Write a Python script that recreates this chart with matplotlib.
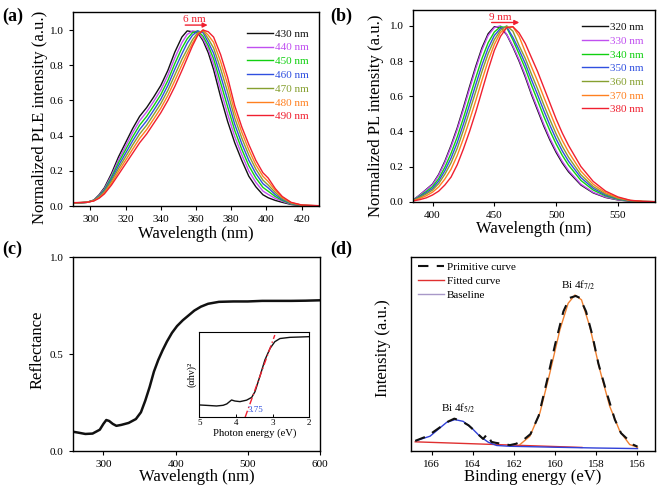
import matplotlib
matplotlib.use("Agg")
import matplotlib.pyplot as plt
from matplotlib.lines import Line2D

plt.rcParams['font.family'] = ['Liberation Serif', 'DejaVu Serif']
plt.rcParams['mathtext.fontset'] = 'stix'

# ---------------- Panel (a) PLE ----------------
wl_a = [290, 298, 302, 305, 308, 312, 316, 320, 324, 328, 332, 336, 340, 344, 348, 352, 355, 358,
        361, 364, 367, 370, 374, 378, 382, 386, 390, 394, 398, 401, 405, 409, 414, 420, 430]
ple_430 = [.016, .022, .035, .065, .105, .185, .28, .36, .44, .51, .56, .62, .685, .77, .875, .96, .995, .99,
           .985, .94, .87, .775, .62, .48, .36, .26, .17, .11, .065, .048, .033, .022, .01, .003, 0.0]
ple_440 = [.017, .022, .034, .062, .099, .174, .263, .34, .417, .485, .535, .595, .659, .742, .842, .928, .975, .995,
           .99, .95, .89, .806, .66, .522, .395, .292, .20, .135, .086, .067, .044, .028, .012, .004, 0.0]
ple_450 = [.017, .022, .033, .058, .093, .163, .247, .32, .393, .46, .51, .57, .633, .713, .81, .897, .95, .985,
           .995, .965, .91, .837, .70, .563, .43, .323, .23, .16, .107, .085, .055, .033, .014, .004, .001]
ple_460 = [.018, .022, .032, .055, .088, .152, .23, .30, .37, .435, .485, .545, .607, .685, .778, .865, .925, .97,
           .995, .985, .93, .868, .74, .605, .465, .355, .26, .185, .128, .104, .066, .038, .016, .005, .001]
ple_470 = [.019, .022, .032, .052, .082, .142, .213, .28, .347, .41, .46, .52, .582, .657, .745, .833, .89, .945,
           .985, .995, .95, .898, .78, .647, .50, .387, .29, .21, .148, .12, .078, .044, .018, .006, .002]
ple_480 = [.019, .022, .031, .048, .076, .13, .197, .26, .323, .385, .435, .495, .556, .628, .713, .802, .865, .925,
           .975, 1.0, .97, .93, .82, .69, .535, .42, .32, .235, .17, .14, .09, .05, .02, .006, .002]
ple_490 = [.02, .022, .03, .045, .07, .12, .18, .24, .30, .36, .41, .47, .53, .60, .68, .77, .84, .91,
           .97, 1.0, .99, .96, .86, .73, .57, .45, .35, .26, .19, .16, .10, .055, .022, .007, .003]
labels_a = ['430 nm', '440 nm', '450 nm', '460 nm', '470 nm', '480 nm', '490 nm']

# ---------------- Panel (b) PL ----------------
wl_b = [385, 390, 395, 400, 405, 410, 415, 420, 425, 430, 435, 440, 445, 450, 455, 460, 465, 470,
        475, 480, 485, 490, 495, 500, 505, 510, 520, 530, 540, 550, 560, 570, 580]
pl_320 = [.013, .04, .07, .10, .155, .23, .32, .42, .535, .655, .77, .875, .955, .995, .99, .95, .88, .80,
          .71, .61, .52, .43, .35, .28, .22, .17, .095, .05, .024, .01, .003, 0, 0]
pl_330 = [.013, .039, .068, .097, .150, .223, .311, .41, .523, .642, .757, .863, .945, .99, 1.0, .952, .886, .808,
          .72, .62, .531, .441, .36, .29, .229, .178, .10, .053, .026, .011, .003, 0, 0]
pl_340 = [.011, .033, .058, .085, .131, .196, .275, .368, .476, .591, .705, .814, .904, .965, .995, .99, .92, .84,
          .758, .663, .575, .485, .403, .328, .263, .208, .121, .066, .033, .014, .004, .0005, 0]
pl_350 = [.01, .029, .051, .075, .117, .176, .248, .336, .441, .553, .666, .777, .873, .945, .985, .995, .935, .864,
          .786, .694, .608, .518, .434, .356, .288, .23, .137, .076, .038, .017, .005, .001, 0]
pl_360 = [.009, .025, .044, .066, .103, .156, .221, .304, .406, .515, .627, .74, .842, .921, .975, 1.0, .97, .888,
          .815, .726, .641, .551, .466, .385, .314, .253, .153, .086, .044, .019, .006, .001, 0]
pl_370 = [.007, .019, .034, .054, .084, .129, .185, .263, .359, .464, .575, .691, .801, .894, .962, .99, .995, .94,
          .853, .768, .685, .595, .508, .423, .348, .283, .174, .099, .051, .023, .007, .002, 0]
pl_380 = [.005, .012, .022, .038, .06, .095, .14, .21, .30, .40, .51, .63, .75, .86, .94, .99, .995, .96,
          .90, .82, .74, .65, .56, .47, .39, .32, .20, .115, .06, .027, .008, .002, 0]
labels_b = ['320 nm', '330 nm', '340 nm', '350 nm', '360 nm', '370 nm', '380 nm']

colors7 = ['#111111', '#C050F0', '#10D010', '#3050E0', '#86A030', '#FF8020', '#F02030']

# ---------------- Panel (c) reflectance ----------------
wl_c = [257, 265, 275, 285, 295, 300, 304, 308, 313, 318, 325, 335, 345, 352, 358, 364, 370, 376, 382,
        388, 395, 402, 410, 418, 426, 435, 445, 460, 480, 500, 520, 540, 560, 580, 600]
refl = [0.10, 0.095, 0.088, 0.09, 0.11, 0.14, 0.16, 0.155, 0.14, 0.13, 0.135, 0.145, 0.165, 0.2, 0.26,
        0.33, 0.41, 0.47, 0.52, 0.565, 0.61, 0.645, 0.675, 0.70, 0.725, 0.745, 0.76, 0.77, 0.772, 0.772,
        0.775, 0.775, 0.775, 0.776, 0.778]
# inset Tauc plot
ev_in = [5.0, 4.75, 4.53, 4.35, 4.25, 4.12, 4.03, 3.89, 3.71, 3.57, 3.48, 3.35, 3.21, 3.07, 2.94, 2.8, 2.53, 2.25, 2.0]
tauc = [0.144, 0.138, 0.132, 0.14, 0.156, 0.202, 0.19, 0.183, 0.2, 0.233, 0.3, 0.475, 0.67, 0.805, 0.883,
        0.92, 0.934, 0.938, 0.942]
fit_ev = [3.75, 2.94]
fit_val = [0.0, 0.961]

# ---------------- Panel (d) XPS ----------------
be_prim = [166.8, 166.2, 165.6, 165.2, 164.9, 164.6, 164.2, 163.8, 163.5, 163.3, 163.1, 162.9, 162.6, 162.2,
           161.9, 161.6, 161.2, 160.8, 160.4, 160.0, 159.6, 159.3, 159.0, 158.8, 158.5, 158.2, 157.9, 157.5,
           157.1, 156.8, 156.5, 156.2, 156.0]
int_prim = [0.05, 0.075, 0.12, 0.15, 0.165, 0.155, 0.13, 0.09, 0.06, 0.085, 0.045, 0.04, 0.035, 0.028,
            0.035, 0.05, 0.085, 0.18, 0.36, 0.55, 0.72, 0.79, 0.80, 0.79, 0.72, 0.60, 0.45, 0.30,
            0.16, 0.09, 0.06, 0.03, 0.02]
be_f52 = [166.73, 166.08, 165.6, 165.27, 164.87, 164.47, 164.06, 163.66, 163.25, 162.84, 162.2, 160.0, 158.0, 156.0]
int_f52 = [0.052, 0.074, 0.117, 0.146, 0.16, 0.151, 0.117, 0.074, 0.043, 0.026, 0.022, 0.017, 0.013, 0.01]
be_f72 = [161.71, 161.23, 160.74, 160.26, 159.77, 159.37, 159.04, 158.72, 158.32, 157.83, 157.35, 156.86, 156.38, 156.0]
int_f72 = [0.031, 0.074, 0.195, 0.401, 0.625, 0.762, 0.805, 0.78, 0.642, 0.418, 0.229, 0.10, 0.031, 0.017]
be_red = [166.8, 158.7]
int_red = [0.045, 0.016]

fig = plt.figure(figsize=(6.61, 4.86), dpi=100)

tick_fs = 8
lab_fs = 12


def style_ax(ax):
    ax.tick_params(direction='out', labelsize=tick_fs, length=3, width=0.8, top=False, right=False)
    for s in ax.spines.values():
        s.set_linewidth(1.0)


# ---- (a)
axa = fig.add_axes([0.110, 0.5757, 0.373, 0.3988])
for y, c, lab in zip([ple_430, ple_440, ple_450, ple_460, ple_470, ple_480, ple_490], colors7, labels_a):
    axa.plot(wl_a, y, color=c, lw=1.0, label=lab)
axa.set_xlim(290, 430)
axa.set_ylim(0, 1.1)
axa.set_xticks([300, 320, 340, 360, 380, 400, 420])
axa.set_yticks([0.0, 0.2, 0.4, 0.6, 0.8, 1.0])
axa.set_yticklabels(['0.0', '0.2', '0.4', '0.6', '0.8', '1.0'])
style_ax(axa)
axa.set_xlabel('Wavelength (nm)', fontsize=lab_fs, labelpad=1)
axa.set_ylabel('Normalized PLE intensity (a.u.)', fontsize=lab_fs)
axa.yaxis.set_label_coords(-0.1, 0.46)
leg = axa.legend(loc='upper left', bbox_to_anchor=(0.705, 0.915), frameon=False, fontsize=8,
                 handlelength=2.4, handletextpad=0.15, labelspacing=0.36, borderpad=0, borderaxespad=0)
for t, c in zip(leg.get_texts(), colors7):
    t.set_color(c)
axa.annotate('', xy=(366.6, 1.028), xytext=(353.9, 1.028),
             arrowprops=dict(arrowstyle='-|>', color='#F02030', lw=1.0, mutation_scale=7, shrinkA=0, shrinkB=0))
axa.text(359, 1.06, '6 nm', color='#F02030', fontsize=8, ha='center', va='center')
fig.text(0.004, 0.985, '(a)', fontsize=13, fontweight='bold', va='top', ha='left')

# ---- (b)
axb = fig.add_axes([0.6244, 0.585, 0.3666, 0.3944])
for y, c, lab in zip([pl_320, pl_330, pl_340, pl_350, pl_360, pl_370, pl_380], colors7, labels_b):
    axb.plot(wl_b, y, color=c, lw=1.0, label=lab)
axb.set_xlim(384, 580)
axb.set_ylim(0, 1.09)
axb.set_xticks([400, 450, 500, 550])
axb.set_yticks([0.0, 0.2, 0.4, 0.6, 0.8, 1.0])
axb.set_yticklabels(['0.0', '0.2', '0.4', '0.6', '0.8', '1.0'])
style_ax(axb)
axb.set_xlabel('Wavelength (nm)', fontsize=lab_fs, labelpad=1)
axb.set_ylabel('Normalized PL intensity (a.u.)', fontsize=lab_fs)
axb.yaxis.set_label_coords(-0.118, 0.45)
leg = axb.legend(loc='upper left', bbox_to_anchor=(0.6975, 0.935), frameon=False, fontsize=8,
                 handlelength=2.4, handletextpad=0.15, labelspacing=0.35, borderpad=0, borderaxespad=0)
for t, c in zip(leg.get_texts(), colors7):
    t.set_color(c)
axb.annotate('', xy=(470.2, 1.019), xytext=(447.8, 1.019),
             arrowprops=dict(arrowstyle='-|>', color='#F02030', lw=1.0, mutation_scale=7, shrinkA=0, shrinkB=0))
axb.text(454.5, 1.05, '9 nm', color='#F02030', fontsize=8, ha='center', va='center')
fig.text(0.500, 0.985, '(b)', fontsize=13, fontweight='bold', va='top', ha='left')

# ---- (c)
axc = fig.add_axes([0.110, 0.072, 0.3741, 0.3986])
axc.plot(wl_c, refl, color='#111111', lw=1.8)
axc.set_xlim(257.5, 600)
axc.set_ylim(0, 1.0)
axc.set_xticks([300, 400, 500, 600])
axc.set_yticks([0.0, 0.5, 1.0])
axc.set_yticklabels(['0.0', '0.5', '1.0'])
style_ax(axc)
axc.set_xlabel('Wavelength (nm)', fontsize=lab_fs, labelpad=0)
axc.set_ylabel('Reflectance', fontsize=lab_fs)
axc.yaxis.set_label_coords(-0.108, 0.52)
fig.text(0.004, 0.505, '(c)', fontsize=13, fontweight='bold', va='top', ha='left')

axi = fig.add_axes([0.3015, 0.1414, 0.1664, 0.1761])
axi.plot(ev_in, tauc, color='#111111', lw=1.0)
axi.plot(fit_ev, fit_val, color='#F02030', lw=1.0, ls=(0, (5, 2, 1, 2)))
axi.set_xlim(5, 2)
axi.set_ylim(0, 1.0)
axi.set_xticks([5, 4, 3, 2])
axi.set_yticks([])
axi.tick_params(direction='in', labelsize=6.5, length=2, width=0.7, pad=1.5)
for s in axi.spines.values():
    s.set_linewidth(0.8)
axi.set_xlabel('Photon energy (eV)', fontsize=7.7, labelpad=1)
axi.set_ylabel('(αhν)²', fontsize=7.5, labelpad=2)
axi.text(3.47, 0.04, '3.75', color='#3050E0', fontsize=6.5, ha='center', va='bottom')

# ---- (d)
axd = fig.add_axes([0.6213, 0.073, 0.3696, 0.3975])
axd.plot(be_red, int_red, color='#E03030', lw=1.0)
axd.plot(be_f52, int_f52, color='#3040D8', lw=1.0)
axd.plot(be_f72, int_f72, color='#F08030', lw=1.0)
axd.plot(be_prim, int_prim, color='#111111', lw=1.5, ls=(0, (5, 4)))
axd.set_xlim(167.02, 155.15)
axd.set_ylim(0, 1.0)
axd.set_xticks([166, 164, 162, 160, 158, 156])
axd.set_yticks([])
style_ax(axd)
axd.set_xlabel('Binding energy (eV)', fontsize=lab_fs, labelpad=0)
axd.set_ylabel('Intensity (a.u.)', fontsize=lab_fs)
axd.yaxis.set_label_coords(-0.08, 0.53)
handles = [Line2D([], [], color='#111111', lw=1.5, ls=(0, (5, 4))),
           Line2D([], [], color='#E03030', lw=1.0),
           Line2D([], [], color='#A898C8', lw=1.0)]
axd.legend(handles, ['Primitive curve', 'Fitted curve', 'Baseline'], loc='upper left',
           bbox_to_anchor=(0.03, 0.975), frameon=False, fontsize=8, handlelength=2.3,
           handletextpad=0.3, labelspacing=0.4, borderpad=0, borderaxespad=0)
axd.text(158.9, 0.857, 'Bi 4f$_{7/2}$', fontsize=8, ha='center', va='center')
axd.text(164.7, 0.217, 'Bi 4f$_{5/2}$', fontsize=8, ha='center', va='center')
fig.text(0.500, 0.505, '(d)', fontsize=13, fontweight='bold', va='top', ha='left')

fig.savefig('out.png', dpi=100)
